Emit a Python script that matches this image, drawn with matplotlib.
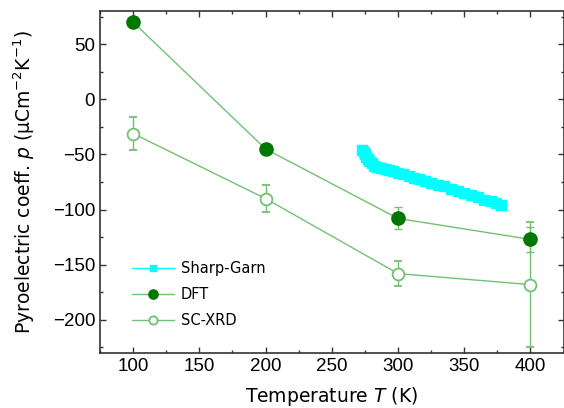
import matplotlib
matplotlib.use("Agg")
import matplotlib.pyplot as plt
from matplotlib.ticker import MultipleLocator

# DFT and single-crystal XRD values
temps = [100, 200, 300, 400]
dft = [70, -45, -108, -127]
dft_err = [0, 0, 10, 11]
xrd = [-31, -90, -158, -168]
xrd_err = [15, 12, 11, 57]

sg_temp = [273, 274, 275, 276, 277, 278, 280, 282, 284, 287, 290, 293, 296, 300,
           304, 308, 312, 316, 320, 325, 330, 335, 340, 345, 350, 355, 360, 365,
           370, 374, 378]
sg_p = [-46, -48, -50, -52, -54, -56, -58, -60, -61, -62, -63, -64, -65, -66.5,
        -68, -69.5, -71, -72.5, -74, -75.5, -77.5, -79, -81, -83, -85, -87, -89,
        -91, -92.5, -94, -96]

light_green = '#72c172'
dark_green = '#007800'

plt.rcParams['mathtext.fontset'] = 'dejavusans'

fig = plt.figure(figsize=(5.64, 4.08), dpi=100)
ax = fig.add_axes([0.1773, 0.1348, 0.822, 0.838])

sg_line, = ax.plot(sg_temp, sg_p, color='cyan', lw=1, marker='s', ms=7,
                   mec='cyan', mfc='cyan', label='Sharp-Garn', zorder=2)
dft_eb = ax.errorbar(temps, dft, yerr=dft_err, color=light_green, lw=1,
                     marker='o', ms=9.5, mfc=dark_green, mec=dark_green,
                     capsize=3, elinewidth=1, label='DFT', zorder=3)
xrd_eb = ax.errorbar(temps, xrd, yerr=xrd_err, color=light_green, lw=1,
                     marker='o', ms=8.5, mfc='white', mec=light_green, mew=1.3,
                     capsize=3, elinewidth=1, label='SC-XRD', zorder=3)

ax.set_xlim(75, 425)
ax.set_ylim(-230, 80)
ax.xaxis.set_major_locator(MultipleLocator(50))
ax.xaxis.set_minor_locator(MultipleLocator(25))
ax.yaxis.set_major_locator(MultipleLocator(50))
ax.yaxis.set_minor_locator(MultipleLocator(25))

ax.tick_params(which='both', direction='in', top=True, right=True,
               color='#333333', width=1)
ax.tick_params(which='major', length=4, labelsize=13.5)
ax.tick_params(which='minor', length=2.5)
for lab in ax.get_xticklabels() + ax.get_yticklabels():
    lab.set_family('Liberation Sans')
for s in ax.spines.values():
    s.set_color('#333333')
    s.set_linewidth(1.2)

ax.set_xlabel('Temperature $T$ (K)', fontsize=13.5, labelpad=7)
ax.set_ylabel('Pyroelectric coeff. $p$ (μCm$^{-2}$K$^{-1}$)', fontsize=13.5,
              labelpad=11)

ax.legend(handles=[sg_line, dft_eb.lines[0], xrd_eb.lines[0]],
          labels=['Sharp-Garn', 'DFT', 'SC-XRD'],
          loc='lower left', bbox_to_anchor=(0.04, 0.035), frameon=False,
          fontsize=10.5, handlelength=2.9, handletextpad=0.45,
          labelspacing=0.75, markerscale=0.7)

fig.savefig('out.png', dpi=100)
